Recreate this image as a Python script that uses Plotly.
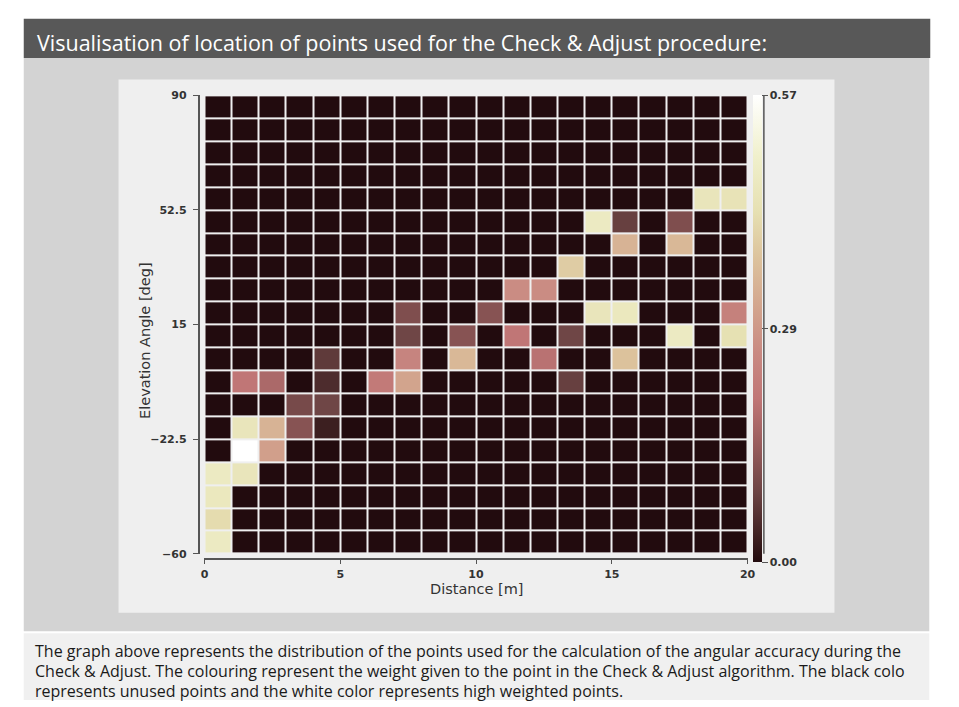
import plotly.graph_objects as go

# Bin edges of the weight grid
distance_edges = list(range(0, 21))                      # metres, 1 m bins
elevation_edges = [-60 + 7.5 * i for i in range(21)]     # degrees, 7.5 deg bins

# Points used by Check & Adjust: bin start (distance, elevation) and weight
used_distance = [0, 0, 0, 0,
                 1, 1, 1, 1,
                 2, 2, 2,
                 3, 3,
                 4, 4, 4, 4,
                 6,
                 7, 7, 7, 7,
                 9, 9,
                 10,
                 11, 11,
                 12, 12,
                 13, 13, 13,
                 14, 14,
                 15, 15, 15, 15,
                 17, 17, 17,
                 18,
                 19, 19, 19]
used_elevation = [-60, -52.5, -45, -37.5,
                  -37.5, -30, -22.5, -7.5,
                  -30, -22.5, -7.5,
                  -22.5, -15,
                  -22.5, -15, -7.5, 0,
                  -7.5,
                  -7.5, 0, 7.5, 15,
                  0, 7.5,
                  15,
                  7.5, 22.5,
                  0, 22.5,
                  -7.5, 7.5, 30,
                  15, 45,
                  0, 15, 37.5, 45,
                  7.5, 37.5, 45,
                  52.5,
                  7.5, 15, 52.5]
used_weight = [0.47, 0.42, 0.46, 0.47,
               0.45, 0.57, 0.45, 0.20,
               0.30, 0.34, 0.17,
               0.12, 0.10,
               0.03, 0.09, 0.05, 0.07,
               0.21,
               0.31, 0.24, 0.09, 0.11,
               0.35, 0.12,
               0.12,
               0.20, 0.26,
               0.19, 0.26,
               0.08, 0.09, 0.39,
               0.45, 0.47,
               0.37, 0.46, 0.34, 0.08,
               0.47, 0.35, 0.11,
               0.45,
               0.43, 0.23, 0.44]

x_ticks = [0, 5, 10, 15, 20]
y_ticks = [-60, -22.5, 15, 52.5, 90]
y_tick_text = ["\u221260", "\u221222.5", "15", "52.5", "90"]
cbar_ticks = [0, 0.285, 0.57]
cbar_tick_text = ["0.00", "0.29", "0.57"]

title_text = "Visualisation of location of points used for the Check & Adjust procedure:"
caption_lines = [
    "The graph above represents the distribution of the points used for the calculation of the angular accuracy during the",
    "Check & Adjust. The colouring represent the weight given to the point in the Check & Adjust algorithm. The black colo",
    "represents unused points and the white color represents high weighted points.",
]

# Build the weight grid (rows = elevation bins, columns = distance bins)
n_cols = len(distance_edges) - 1
n_rows = len(elevation_edges) - 1
z = [[0.0] * n_cols for _ in range(n_rows)]
for d, e, w in zip(used_distance, used_elevation, used_weight):
    z[elevation_edges.index(e)][distance_edges.index(d)] = w

W, H = 959, 707
def px(x):
    return x / W
def py(y):
    return 1 - y / H

pink_scale = [
    [0.00, "#220b0e"],
    [0.05, "#3b1e1f"],
    [0.15, "#6c4444"],
    [0.25, "#985c5c"],
    [0.35, "#c07676"],
    [0.45, "#c98a82"],
    [0.55, "#d3a68e"],
    [0.65, "#dcc29c"],
    [0.75, "#e6e0b2"],
    [0.87, "#f0f0cc"],
    [1.00, "#ffffff"],
]

tick_font = dict(family="DejaVu Sans", size=11, color="#333333", weight="bold")
label_font = dict(family="DejaVu Sans", size=14.5, color="#333333")

fig = go.Figure(go.Heatmap(
    x=distance_edges,
    y=elevation_edges,
    z=z,
    zmin=0, zmax=0.57,
    colorscale=pink_scale,
    xgap=2, ygap=2,
    hoverongaps=False,
    colorbar=dict(
        x=px(758), xanchor="left", xref="paper",
        y=py(91), yanchor="top", yref="paper",
        len=467, lenmode="pixels",
        thickness=9, thicknessmode="pixels",
        xpad=0, ypad=0, outlinewidth=0,
        ticks="outside", ticklen=6, tickwidth=1.3, tickcolor="#555555",
        tickvals=cbar_ticks, ticktext=cbar_tick_text,
        tickfont=tick_font,
    ),
))

shapes = [
    # header bar
    dict(type="rect", xref="paper", yref="paper", x0=px(20), x1=px(938), y0=py(53), y1=py(13),
         fillcolor="#585858", line_width=0, layer="below"),
    # grey frame
    dict(type="rect", xref="paper", yref="paper", x0=px(20), x1=px(937), y0=py(637), y1=py(53),
         fillcolor="#d3d3d3", line_width=0, layer="below"),
    # chart panel
    dict(type="rect", xref="paper", yref="paper", x0=px(116), x1=px(841), y0=py(618), y1=py(75),
         fillcolor="#efefef", line_width=0, layer="below"),
    # caption panel
    dict(type="rect", xref="paper", yref="paper", x0=px(20), x1=px(937), y0=py(707), y1=py(639),
         fillcolor="#f0f0f0", line_width=0, layer="below"),
    # colour bar axis line
    dict(type="line", xref="paper", yref="paper", x0=px(769.5), x1=px(769.5), y0=py(558), y1=py(91),
         line=dict(color="#555555", width=1.5)),
]

annotations = [
    dict(text=title_text, xref="paper", yref="paper", x=px(31), y=py(37), xanchor="left", yanchor="middle",
         showarrow=False, font=dict(family="Open Sans", size=21.5, color="#ffffff")),
    dict(text="Elevation Angle [deg]", xref="paper", yref="paper", x=px(143), y=py(341), textangle=-90,
         xanchor="center", yanchor="middle", showarrow=False, font=label_font),
    dict(text="Distance [m]", xref="paper", yref="paper", x=px(478), y=py(594),
         xanchor="center", yanchor="middle", showarrow=False, font=label_font),
]
for i, line in enumerate(caption_lines):
    annotations.append(dict(text=line, xref="paper", yref="paper", x=px(29), y=py(657 + 20.5 * i),
                            xanchor="left", yanchor="middle", showarrow=False,
                            font=dict(family="Open Sans", size=16, color="#1a1a1a")))

fig.update_layout(
    width=W, height=H,
    margin=dict(l=0, r=0, t=0, b=0),
    paper_bgcolor="#ffffff",
    plot_bgcolor="#ebe6e6",
    showlegend=False,
    shapes=shapes,
    annotations=annotations,
    xaxis=dict(
        domain=[px(203), px(753)], range=[0, 20],
        anchor="free", position=py(563),
        showgrid=False, zeroline=False,
        showline=True, linecolor="#555555", linewidth=1.5,
        ticks="outside", ticklen=5, tickwidth=1.3, tickcolor="#555555",
        tickvals=x_ticks, tickfont=tick_font,
    ),
    yaxis=dict(
        domain=[py(558), py(91)], range=[-60, 90],
        anchor="free", position=px(197),
        showgrid=False, zeroline=False,
        showline=True, linecolor="#555555", linewidth=1.5,
        ticks="outside", ticklen=5, tickwidth=1.3, tickcolor="#555555",
        ticklabelstandoff=4,
        tickvals=y_ticks, ticktext=y_tick_text, tickfont=tick_font,
    ),
)

fig.write_html("out.html")
